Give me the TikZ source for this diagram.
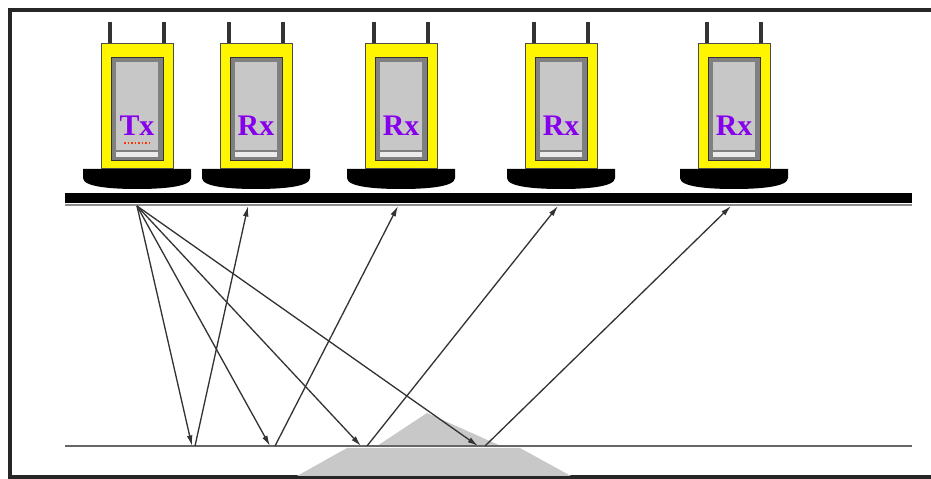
\documentclass[tikz,border=0pt]{standalone}
\usepackage{tikz}
\usepackage{fontspec}
\usetikzlibrary{arrows.meta}
\newfontfamily\tagfont{Liberation Serif}

\begin{document}
\begin{tikzpicture}[
        x=0.02cm, y=-0.02cm,
        boxline/.style={draw=black!85, line width=1.8pt},
        slab/.style={draw=black, line width=5.7pt},
        groundline/.style={draw=black!60, line width=1.1pt},
        ray/.style={draw=black!80, line width=0.75pt, -{Latex[length=6pt,width=3.2pt]}},
        devlabel/.style={text=radiotext, font=\tagfont\bfseries\fontsize{17}{17}\selectfont, inner sep=0pt, anchor=base},
    ]
        % Colour palette
        \definecolor{radiotext}{RGB}{135,0,235}
        \definecolor{radiobody}{RGB}{255,245,0}
        \definecolor{shadow}{RGB}{200,200,200}
        \useasboundingbox (0,0) rectangle (931,479);

        % Outer frame (open on the right)
        \draw[boxline] (931,10) -- (10,10) -- (10,477) -- (931,477);

        % Shadow under the floor line
        \fill[shadow] (427,413) -- (501,446) -- (377,446) -- cycle;
        \fill[shadow] (347,448) -- (520,448) -- (571,476) -- (297,476) -- cycle;

        % Ceiling and floor
        \draw[slab] (65,198) -- (912,198);
        \draw[draw=black!45, line width=1pt] (65,205) -- (912,205);
        \draw[groundline] (65,446) -- (912,446);

        % Radios on the ceiling
        \foreach \cx/\tag [count=\i] in {137/Tx,256/Rx,401/Rx,561/Rx,734/Rx} {
            \fill[black!80] ({\cx-29},22) rectangle ({\cx-25},44);
            \fill[black!80] ({\cx+25},22) rectangle ({\cx+29},44);
            \fill[black] ({\cx-54},169) -- ({\cx+54},169) -- ({\cx+54},178)
                .. controls ({\cx+54},187) and ({\cx+25},189) .. ({\cx},189)
                .. controls ({\cx-25},189) and ({\cx-54},187) .. ({\cx-54},178) -- cycle;
            \filldraw[fill=radiobody, draw=black!70, line width=0.5pt] ({\cx-36},43) rectangle ({\cx+36},168);
            \filldraw[fill=black!50, draw=black!80, line width=0.5pt] ({\cx-26},57) rectangle ({\cx+26},160);
            \fill[black!22] ({\cx-21},62) rectangle ({\cx+21},150);
            \fill[black!8] ({\cx-21},152) rectangle ({\cx+21},157);
            \node[devlabel] (dev\i) at (\cx,136) {\tag};
        }
        \draw[red!60!orange, densely dotted, line width=1pt] (124,143) -- (152,143);

        % Reflection points
        \coordinate (tx) at (137,206);
        \coordinate (hitA) at (192,446);
        \coordinate (hitB) at (270,446);
        \coordinate (hitC) at (361,446);
        \coordinate (hitD) at (478,446);
        \coordinate (offA) at (195,446);
        \coordinate (offB) at (275,446);
        \coordinate (offC) at (367,446);
        \coordinate (offD) at (485,446);
        \coordinate (rxA) at (248,206);
        \coordinate (rxB) at (398,206);
        \coordinate (rxC) at (558,206);
        \coordinate (rxD) at (731,206);

        % Down paths
        \draw[ray] (tx) -- (hitA);
        \draw[ray] (tx) -- (hitB);
        \draw[ray] (tx) -- (hitC);
        \draw[ray] (tx) -- (hitD);
        % Up paths
        \draw[ray] (offA) -- (rxA);
        \draw[ray] (offB) -- (rxB);
        \draw[ray] (offC) -- (rxC);
        \draw[ray] (offD) -- (rxD);

    \end{tikzpicture}
\end{document}
